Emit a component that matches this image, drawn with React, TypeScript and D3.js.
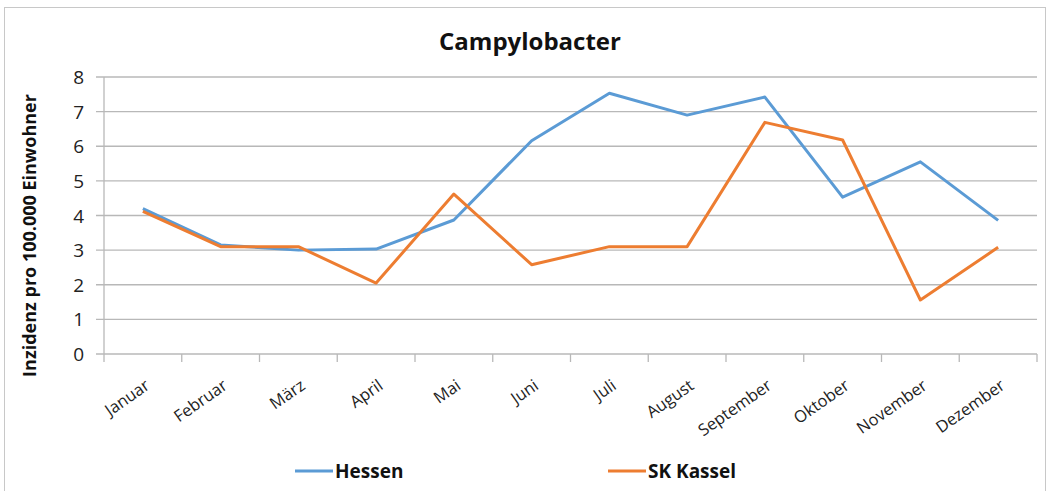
import React, { useEffect, useRef } from "react";
import * as d3 from "d3";

const months = ["Januar", "Februar", "März", "April", "Mai", "Juni", "Juli", "August", "September", "Oktober", "November", "Dezember"];
const hessen = [4.2, 3.15, 3.0, 3.03, 3.87, 6.16, 7.53, 6.9, 7.42, 4.53, 5.55, 3.86];
const kassel = [4.12, 3.1, 3.1, 2.05, 4.62, 2.58, 3.1, 3.1, 6.69, 6.18, 1.56, 3.08];
const yTicks = [0, 1, 2, 3, 4, 5, 6, 7, 8];
const seriesNames = ["Hessen", "SK Kassel"];

const W = 1050;
const H = 491;
const FONT = "'Open Sans', 'DejaVu Sans', sans-serif";

export default function App() {
  const ref = useRef<SVGSVGElement>(null);

  useEffect(() => {
    const svg = d3.select(ref.current);
    svg.selectAll("*").remove();

    const left = 104, right = 1037, top = 77, bottom = 354;
    const x = d3.scaleBand().domain(months).range([left, right]);
    const y = d3.scaleLinear().domain([0, 8]).range([bottom, top]);

    // frame
    svg.append("rect").attr("x", 4.5).attr("y", 7.5).attr("width", 1041).attr("height", 490)
      .attr("fill", "#fff").attr("stroke", "#c8c8c8");

    svg.append("text").attr("x", 530).attr("y", 50).attr("text-anchor", "middle")
      .attr("font-family", FONT).attr("font-weight", "bold").attr("font-size", 24).attr("fill", "#111")
      .text("Campylobacter");

    // gridlines
    svg.append("g").selectAll("line").data(yTicks.filter(d => d > 0)).join("line")
      .attr("x1", left - 8).attr("x2", right).attr("y1", d => y(d)).attr("y2", d => y(d))
      .attr("stroke", "#b8b8b8").attr("stroke-width", 1.3);

    // axes
    svg.append("line").attr("x1", left).attr("x2", left).attr("y1", top).attr("y2", bottom)
      .attr("stroke", "#b8b8b8").attr("stroke-width", 1.3);
    svg.append("line").attr("x1", left - 8).attr("x2", right).attr("y1", bottom).attr("y2", bottom)
      .attr("stroke", "#b8b8b8").attr("stroke-width", 1.3);
    const xTicks = months.map(m => x(m) as number).concat([right]);
    svg.append("g").selectAll("line").data(xTicks).join("line")
      .attr("x1", d => d).attr("x2", d => d).attr("y1", bottom).attr("y2", bottom + 8)
      .attr("stroke", "#b8b8b8").attr("stroke-width", 1.3);

    svg.append("g").selectAll("text").data(yTicks).join("text")
      .attr("x", 84).attr("y", d => y(d) + 7).attr("text-anchor", "end")
      .attr("font-family", FONT).attr("font-size", 19).attr("fill", "#222")
      .text(d => d);

    svg.append("g").selectAll("text").data(months).join("text")
      .attr("transform", m => `translate(${(x(m) as number) + x.bandwidth() / 2 + 8},${bottom + 34}) rotate(-35)`)
      .attr("text-anchor", "end")
      .attr("font-family", FONT).attr("font-size", 16.5).attr("fill", "#222")
      .text(m => m);

    svg.append("text").attr("transform", `translate(36,${(top + bottom) / 2 + 20}) rotate(-90)`)
      .attr("text-anchor", "middle").attr("font-family", FONT).attr("font-weight", "bold")
      .attr("font-size", 18).attr("fill", "#111").text("Inzidenz pro 100.000 Einwohner");

    const line = d3.line<number>()
      .x((_, i) => (x(months[i]) as number) + x.bandwidth() / 2)
      .y(d => y(d));

    const colors = ["#5B9BD5", "#ED7D31"];
    [hessen, kassel].forEach((s, i) => {
      svg.append("path").datum(s).attr("d", line).attr("fill", "none")
        .attr("stroke", colors[i]).attr("stroke-width", 3).attr("stroke-linejoin", "round");
    });

    // legend
    const legendX = [295, 608];
    seriesNames.forEach((n, i) => {
      svg.append("line").attr("x1", legendX[i]).attr("x2", legendX[i] + 38).attr("y1", 471).attr("y2", 471)
        .attr("stroke", colors[i]).attr("stroke-width", 3);
      svg.append("text").attr("x", legendX[i] + 40).attr("y", 478)
        .attr("font-family", FONT).attr("font-weight", "bold").attr("font-size", 19).attr("fill", "#111")
        .text(n);
    });
  }, []);

  return (
    <>
      <style>{`body{margin:0}`}</style>
      <svg ref={ref} width={W} height={H} style={{ display: "block" }} />
    </>
  );
}
